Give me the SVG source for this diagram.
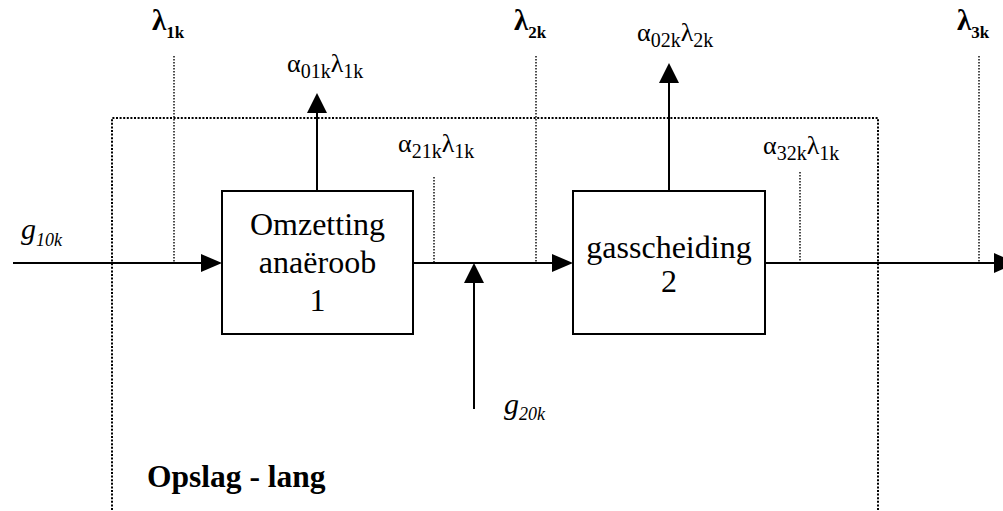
<svg xmlns="http://www.w3.org/2000/svg" width="1003" height="511" viewBox="0 0 1003 511">
<style>
.serif{font-family:"Liberation Serif","Times New Roman",serif;fill:#000}
.box{fill:#fff;stroke:#000;stroke-width:2}
.line{stroke:#000;stroke-width:2;fill:none}
.frame{stroke:#000;stroke-width:2;fill:none;stroke-dasharray:2 1.6}
.dot{stroke:#000;stroke-width:1.4;fill:none;stroke-dasharray:1.4 1.6}
.head{fill:#000}
.lam{font-size:29px;font-weight:bold}
.lamsub{font-size:17px;font-weight:bold}
.alpha{font-size:26px}
.sub{font-size:20px}
.boxtxt{font-size:32px;text-anchor:middle}
</style>
<rect width="1003" height="511" fill="#fff"/>
<g id="frame">
<path class="frame" d="M112,510 V118 H878 V510"/>
<text class="serif" x="147" y="487" font-size="31.5" font-weight="bold">Opslag - lang</text>
</g>
<g id="markers-dotted">
<line class="dot" x1="174" y1="56" x2="174" y2="263"/>
<line class="dot" x1="536" y1="56" x2="536" y2="263"/>
<line class="dot" x1="979" y1="56" x2="979" y2="263"/>
<line class="dot" x1="434" y1="177" x2="434" y2="263"/>
<line class="dot" x1="800" y1="172" x2="800" y2="263"/>
</g>
<g id="connectors">
<line class="line" x1="13" y1="263" x2="202" y2="263"/>
<polygon class="head" points="201,254 222,263 201,272"/>
<line class="line" x1="413" y1="263" x2="554" y2="263"/>
<polygon class="head" points="552,254 573,263 552,272"/>
<line class="line" x1="765" y1="263" x2="995" y2="263"/>
<polygon class="head" points="994,253 1016,263 994,273"/>
<line class="line" x1="474" y1="409" x2="474" y2="282"/>
<polygon class="head" points="464,283 474,263 484,283"/>
<line class="line" x1="317" y1="191" x2="317" y2="112"/>
<polygon class="head" points="307,113 317,93 327,113"/>
<line class="line" x1="669" y1="191" x2="669" y2="82"/>
<polygon class="head" points="659,83 669,63 679,83"/>
</g>
<g id="node1">
<rect class="box" x="222" y="191" width="191" height="143"/>
<text class="serif boxtxt" x="317.5" y="235">Omzetting</text>
<text class="serif boxtxt" x="317.5" y="273">anaëroob</text>
<text class="serif boxtxt" x="317.5" y="311">1</text>
</g>
<g id="node2">
<rect class="box" x="573" y="191" width="192" height="143"/>
<text class="serif boxtxt" x="669" y="258">gasscheiding</text>
<text class="serif boxtxt" x="669" y="292">2</text>
</g>
<g id="labels">
<text class="serif" x="152" y="30"><tspan class="lam">λ</tspan><tspan class="lamsub" dy="8">1k</tspan></text>
<text class="serif" x="514" y="30"><tspan class="lam">λ</tspan><tspan class="lamsub" dy="8">2k</tspan></text>
<text class="serif" x="957" y="30"><tspan class="lam">λ</tspan><tspan class="lamsub" dy="8">3k</tspan></text>
<text class="serif" x="287" y="71.5"><tspan class="alpha">α</tspan><tspan class="sub" dy="6">01k</tspan><tspan class="alpha" dy="-6">λ</tspan><tspan class="sub" dy="6">1k</tspan></text>
<text class="serif" x="637" y="41"><tspan class="alpha">α</tspan><tspan class="sub" dy="6">02k</tspan><tspan class="alpha" dy="-6">λ</tspan><tspan class="sub" dy="6">2k</tspan></text>
<text class="serif" x="398" y="151.5"><tspan class="alpha">α</tspan><tspan class="sub" dy="6">21k</tspan><tspan class="alpha" dy="-6">λ</tspan><tspan class="sub" dy="6">1k</tspan></text>
<text class="serif" x="763" y="154"><tspan class="alpha">α</tspan><tspan class="sub" dy="6">32k</tspan><tspan class="alpha" dy="-6">λ</tspan><tspan class="sub" dy="6">1k</tspan></text>
<text class="serif" x="21" y="239" font-style="italic"><tspan font-size="30">g</tspan><tspan font-size="18" dy="7">10k</tspan></text>
<text class="serif" x="504" y="414" font-style="italic"><tspan font-size="30">g</tspan><tspan font-size="18" dy="6">20k</tspan></text>
</g>
</svg>
